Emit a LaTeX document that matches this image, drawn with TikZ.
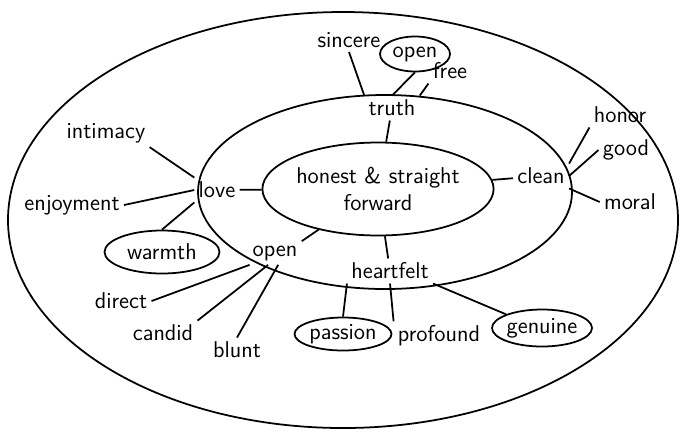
\documentclass[tikz,border=0pt]{standalone}
\usetikzlibrary{shapes.geometric}
\begin{document}
\begin{tikzpicture}[x=0.02cm,y=-0.02cm,line width=1pt,
		every node/.style={font=\sffamily\fontsize{13}{15}\selectfont, inner sep=2pt},
		circled/.style={draw, ellipse, inner sep=0pt}
		]
		\useasboundingbox (0,0) rectangle (688,444);
		% the two rings
		\draw (343,220) ellipse [x radius=335, y radius=208];
		\draw (385,192) ellipse [x radius=187, y radius=97];
		% middle
		\node [circled, minimum width=3.66cm, minimum height=1.86cm, align=center] (core) at (378,189) {honest \& straight\\forward};
		% inner ring words
		\node (truth) at (392,108) {truth};
		\node (love) at (217,190) {love};
		\node (clean) at (541,176) {clean};
		\node (open) at (275,253) {open};
		\node (heartfelt) at (390,271) {heartfelt};
		% outer ring words
		\node (sincere) at (349,40) {sincere};
		\node [circled, minimum width=1.4cm, minimum height=0.7cm] (openT) at (415,54) {open};
		\node (free) at (450,71) {free};
		\node (intimacy) at (106,133) {intimacy};
		\node (enjoyment) at (72,205) {enjoyment};
		\node [circled, minimum width=2.3cm, minimum height=0.86cm] (warmth) at (162,252) {warmth};
		\node (honor) at (620,115) {honor};
		\node (good) at (626,150) {good};
		\node (moral) at (630,202) {moral};
		\node (direct) at (121,301) {direct};
		\node (candid) at (163,333) {candid};
		\node (blunt) at (237,350) {blunt};
		\node [circled, minimum width=1.94cm, minimum height=0.66cm] (passion) at (343,334) {passion};
		\node (profound) at (439,336) {profound};
		\node [circled, minimum width=1.9cm, minimum height=0.74cm] (genuine) at (542,328) {genuine};
		% spokes
		\draw (truth) -- (core);
		\draw (love) -- (core);
		\draw (clean) -- (core);
		\draw (open.north east) -- (core);
		\draw (heartfelt) -- (core);
		\draw (sincere.south) -- (truth.north west);
		\draw (openT.south) -- (truth.north);
		\draw (free.south west) -- (truth.north east);
		\draw (intimacy.south east) -- (love.north west);
		\draw (enjoyment.east) -- (love.west);
		\draw (love.south west) -- (warmth.north);
		\draw (clean.north east) -- (honor.south west);
		\draw (clean.east) -- (good.west);
		\draw (clean.south east) -- (moral.west);
		\draw (open.205) -- (direct.east);
		\draw (open.240) -- (candid.north east);
		\draw (open.285) -- (blunt.north);
		\draw (heartfelt.south west) -- (passion.north);
		\draw (heartfelt.south) -- (profound.north west);
		\draw (heartfelt.south east) -- (genuine.north west);
	\end{tikzpicture}
\end{document}
